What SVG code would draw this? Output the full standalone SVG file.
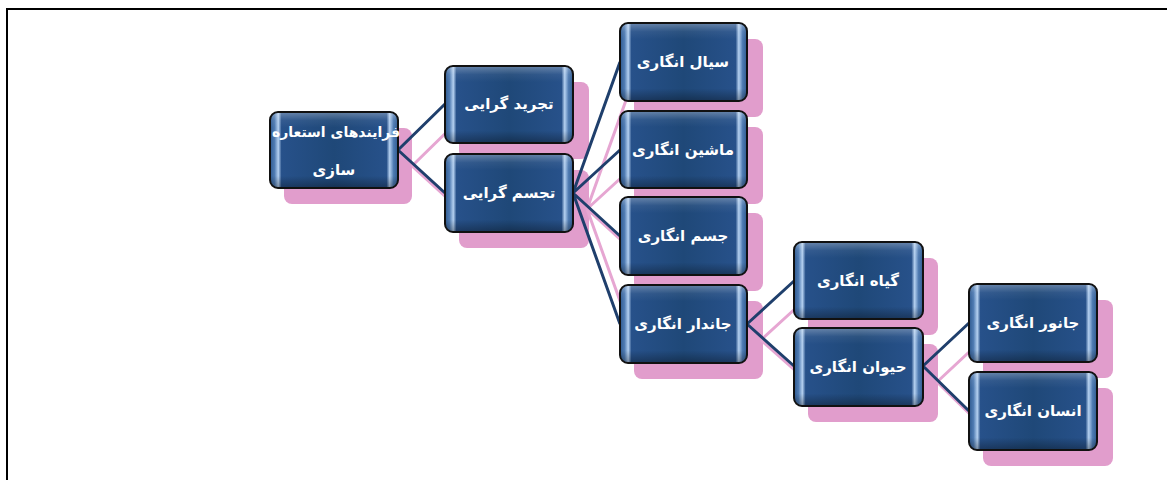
<svg xmlns="http://www.w3.org/2000/svg" width="1167" height="480" viewBox="0 0 1167 480">
<defs>
<linearGradient id="side" x1="0" y1="0" x2="1" y2="0">
<stop offset="0" stop-color="#2f5a90"/>
<stop offset="0.035" stop-color="#4f7bb2"/>
<stop offset="0.065" stop-color="#b4d0f0"/>
<stop offset="0.09" stop-color="#27518a"/>
<stop offset="0.5" stop-color="#1f4878"/>
<stop offset="0.91" stop-color="#27518a"/>
<stop offset="0.935" stop-color="#b4d0f0"/>
<stop offset="0.965" stop-color="#4f7bb2"/>
<stop offset="1" stop-color="#2f5a90"/>
</linearGradient>
<linearGradient id="vert" x1="0" y1="0" x2="0" y2="1">
<stop offset="0" stop-color="#ffffff" stop-opacity="0.28"/>
<stop offset="0.1" stop-color="#ffffff" stop-opacity="0.06"/>
<stop offset="0.2" stop-color="#ffffff" stop-opacity="0"/>
<stop offset="0.85" stop-color="#000000" stop-opacity="0"/>
<stop offset="1" stop-color="#000000" stop-opacity="0.3"/>
</linearGradient>
</defs>
<style>
.sh{fill:#e19dcc}
.box{fill:url(#side);stroke:#111;stroke-width:2}
.ov{fill:url(#vert)}
.lb{stroke:#1f3f6c;stroke-width:3;fill:none}
.lp{stroke:#e6a6d2;stroke-width:3;fill:none}
text{font-family:"DejaVu Sans",sans-serif;font-weight:bold;font-size:15px;fill:#ffffff;text-anchor:middle}
text.sm{font-size:14px}
</style>
<rect width="1167" height="480" fill="#ffffff"/>
<g id="frame">
<line x1="7" y1="9" x2="1167" y2="9" stroke="#000" stroke-width="2"/>
<line x1="7" y1="8" x2="7" y2="480" stroke="#000" stroke-width="2"/>
</g>
<g id="shadows">
<rect class="sh" x="284" y="128" width="128" height="76" rx="8"/>
<rect class="sh" x="459" y="82" width="130" height="77" rx="8"/>
<rect class="sh" x="459" y="170" width="130" height="78" rx="8"/>
<rect class="sh" x="634" y="39" width="129" height="78" rx="8"/>
<rect class="sh" x="634" y="127" width="129" height="77" rx="8"/>
<rect class="sh" x="634" y="213" width="129" height="78" rx="8"/>
<rect class="sh" x="634" y="301" width="129" height="78" rx="8"/>
<rect class="sh" x="808" y="258" width="130" height="77" rx="8"/>
<rect class="sh" x="808" y="344" width="130" height="78" rx="8"/>
<rect class="sh" x="983" y="300" width="130" height="78" rx="8"/>
<rect class="sh" x="983" y="388" width="130" height="78" rx="8"/>
</g>
<g id="connectors">
<g class="lp">
<path d="M412 166L459 120M412 166L459 209"/>
<path d="M587 209L634 78M587 209L634 166M587 209L634 252M587 209L634 340"/>
<path d="M761 340L808 297M761 340L808 382"/>
<path d="M937 382L983 339M937 382L983 427"/>
</g>
<g class="lb">
<path d="M398 150L445 104M398 150L445 193"/>
<path d="M573 193L620 62M573 193L620 150M573 193L620 236M573 193L620 324"/>
<path d="M747 324L794 281M747 324L794 366"/>
<path d="M923 366L969 323M923 366L969 411"/>
</g>
</g>
<g id="n-root"><rect class="box" x="270" y="112" width="128" height="76" rx="8"/><rect class="ov" x="271" y="113" width="126" height="74" rx="7"/><text class="sm" x="336" y="137">فرایندهای استعاره</text><text x="334" y="175">سازی</text></g>
<g id="n-tajrid"><rect class="box" x="445" y="66" width="128" height="77" rx="8"/><rect class="ov" x="446" y="67" width="126" height="75" rx="7"/><text x="509" y="109">تجرید گرایی</text></g>
<g id="n-tajassom"><rect class="box" x="445" y="154" width="128" height="78" rx="8"/><rect class="ov" x="446" y="155" width="126" height="76" rx="7"/><text x="509" y="198">تجسم گرایی</text></g>
<g id="n-sayyal"><rect class="box" x="620" y="23" width="127" height="78" rx="8"/><rect class="ov" x="621" y="24" width="125" height="76" rx="7"/><text x="683" y="67">سیال انگاری</text></g>
<g id="n-mashin"><rect class="box" x="620" y="111" width="127" height="77" rx="8"/><rect class="ov" x="621" y="112" width="125" height="75" rx="7"/><text x="683" y="155">ماشین انگاری</text></g>
<g id="n-jesm"><rect class="box" x="620" y="197" width="127" height="78" rx="8"/><rect class="ov" x="621" y="198" width="125" height="76" rx="7"/><text x="683" y="241">جسم انگاری</text></g>
<g id="n-jandar"><rect class="box" x="620" y="285" width="127" height="78" rx="8"/><rect class="ov" x="621" y="286" width="125" height="76" rx="7"/><text x="683" y="329">جاندار انگاری</text></g>
<g id="n-giah"><rect class="box" x="794" y="242" width="129" height="77" rx="8"/><rect class="ov" x="795" y="243" width="127" height="75" rx="7"/><text x="858" y="286">گیاه انگاری</text></g>
<g id="n-heyvan"><rect class="box" x="794" y="328" width="129" height="78" rx="8"/><rect class="ov" x="795" y="329" width="127" height="76" rx="7"/><text x="858" y="372">حیوان انگاری</text></g>
<g id="n-janvar"><rect class="box" x="969" y="284" width="128" height="78" rx="8"/><rect class="ov" x="970" y="285" width="126" height="76" rx="7"/><text x="1033" y="328">جانور انگاری</text></g>
<g id="n-ensan"><rect class="box" x="969" y="372" width="128" height="78" rx="8"/><rect class="ov" x="970" y="373" width="126" height="76" rx="7"/><text x="1033" y="416">انسان انگاری</text></g>
</svg>
